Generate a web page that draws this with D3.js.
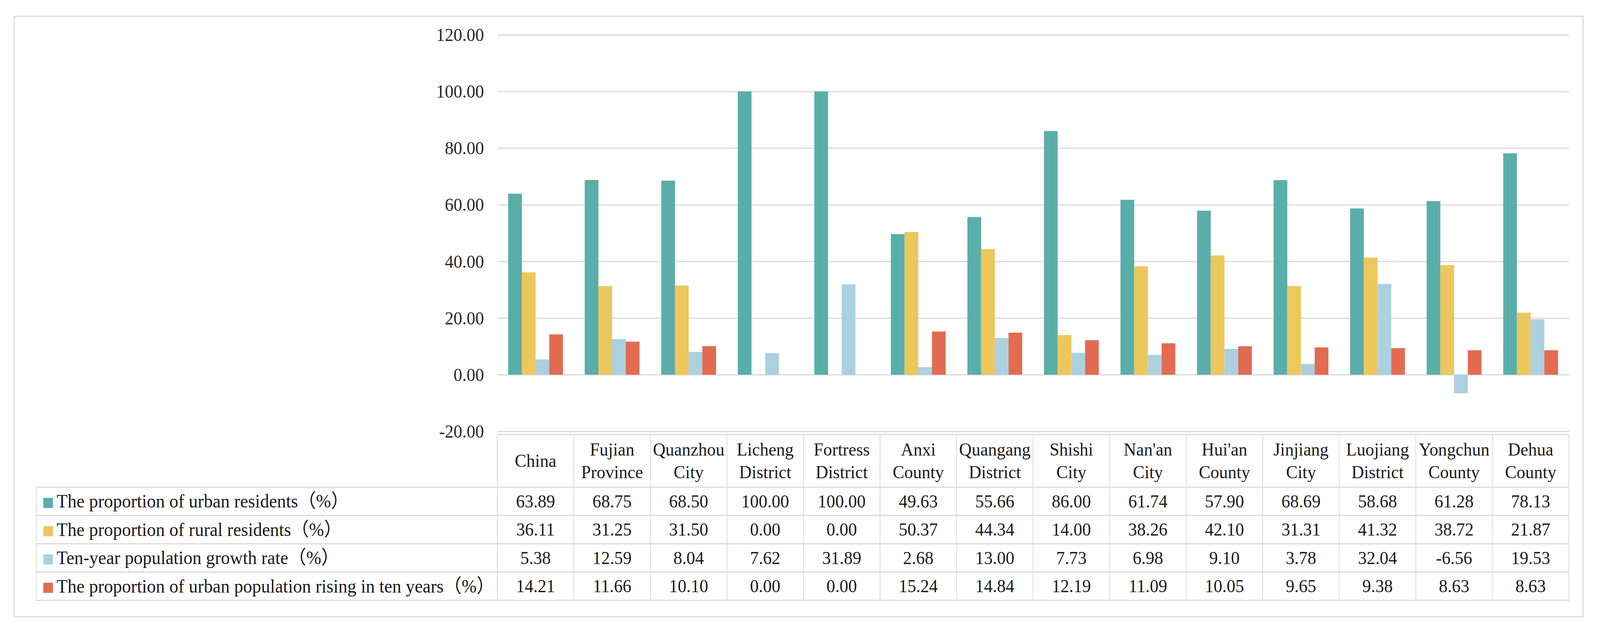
<!DOCTYPE html>
<html>
<head>
<meta charset="utf-8">
<script src="https://cdn.jsdelivr.net/npm/d3@7"></script>
<style>
  html, body { margin: 0; padding: 0; background: white; overflow: hidden; }
  #chart svg { display: block; width: 100vw; height: 100vh; }
  text { font-family: "Liberation Serif", "Noto Sans CJK SC", serif; }
  .tick text { fill: #262626; }
  .grid line { stroke: #d9d9d9; stroke-width: 3; }
  .tbl-line { stroke: #d9d9d9; }
</style>
</head>
<body>
<div id="chart"></div>
<script>
// Categories (header labels, \n = line break)
let categories = ["China", "Fujian\nProvince", "Quanzhou\nCity", "Licheng\nDistrict",
  "Fortress\nDistrict", "Anxi\nCounty", "Quangang\nDistrict", "Shishi\nCity",
  "Nan'an\nCity", "Hui'an\nCounty", "Jinjiang\nCity", "Luojiang\nDistrict",
  "Yongchun\nCounty", "Dehua\nCounty"];

let seriesNames = ["The proportion of urban residents（%）",
  "The proportion of rural residents（%）",
  "Ten-year population growth rate（%）",
  "The proportion of urban population rising in ten years（%）"];

let urban  = [63.89, 68.75, 68.50, 100.00, 100.00, 49.63, 55.66, 86.00, 61.74, 57.90, 68.69, 58.68, 61.28, 78.13];
let rural  = [36.11, 31.25, 31.50, 0.00, 0.00, 50.37, 44.34, 14.00, 38.26, 42.10, 31.31, 41.32, 38.72, 21.87];
let growth = [5.38, 12.59, 8.04, 7.62, 31.89, 2.68, 13.00, 7.73, 6.98, 9.10, 3.78, 32.04, -6.56, 19.53];
let rising = [14.21, 11.66, 10.10, 0.00, 0.00, 15.24, 14.84, 12.19, 11.09, 10.05, 9.65, 9.38, 8.63, 8.63];

let yTicks = [-20, 0, 20, 40, 60, 80, 100, 120];
let colors = ["#5aaea9", "#ecc75b", "#abd0e0", "#e26b52"];

let seriesValues = [urban, rural, growth, rising];

// plain hyphen minus, two decimals
let fmt = (d) => { return d.toFixed(2); };

// chart is laid out in the reference's 4321x1619 space and stretched to the window
let W = 4321, H = 1619;
let svg = d3.select("#chart").append("svg")
  .attr("viewBox", "0 0 " + W + " " + H)
  .attr("preserveAspectRatio", "none");

svg.append("rect")
  .attr("width", W)
  .attr("height", H)
  .attr("fill", "white");

// outer frame
svg.append("rect")
  .attr("x", 38).attr("y", 42)
  .attr("width", 4237).attr("height", 1538)
  .attr("fill", "none")
  .attr("stroke", "#d9d9d9")
  .attr("stroke-width", 3);

let plot = { left: 1343, right: 4237, top: 89, bottom: 1105 };
let fs = 47;
let legendFs = 48.5;

// columns of the table, bars sit inside them
let col = d3.scaleBand().domain(categories).range([plot.left, plot.right]);
let x = d3.scaleBand().domain(categories).range([plot.left, plot.right])
  .paddingInner(0.284).paddingOuter(0.142);
let xs = d3.scaleBand().domain(d3.range(seriesNames.length)).range([0, x.bandwidth()]);
let y = d3.scaleLinear().domain([-20, 120]).range([plot.bottom, plot.top]);

// y axis with gridlines
let yAxis = svg.append("g")
  .attr("class", "grid")
  .attr("transform", "translate(" + plot.left + ",0)")
  .call(d3.axisLeft(y).tickValues(yTicks).tickFormat(fmt)
    .tickSizeInner(-(plot.right - plot.left)).tickSizeOuter(0).tickPadding(36));
yAxis.select(".domain").remove();
yAxis.selectAll(".tick text")
  .attr("font-size", fs)
  .attr("dy", "0.33em");

// bars
let bars = [];
categories.forEach((c, i) => {
  seriesValues.forEach((vals, s) => {
    bars.push({ cat: c, s: s, v: vals[i] });
  });
});

svg.append("g").selectAll("rect")
  .data(bars)
  .enter().append("rect")
    .attr("x", (d) => { return x(d.cat) + xs(d.s); })
    .attr("y", (d) => { return y(Math.max(0, d.v)); })
    .attr("width", xs.bandwidth())
    .attr("height", (d) => { return Math.abs(y(d.v) - y(0)); })
    .attr("fill", (d) => { return colors[d.s]; });

// Data table
let tbl = { left: 98, top: 1113, headBottom: 1248, rowH: 72.5 };
let rowTop = (r) => { return tbl.headBottom + r * tbl.rowH; };
let tblBottom = rowTop(seriesNames.length);
let g = svg.append("g");

// header box top
g.append("line").attr("class", "tbl-line").attr("stroke-width", 3)
  .attr("x1", plot.left).attr("x2", plot.right)
  .attr("y1", tbl.top).attr("y2", tbl.top);

// horizontal row lines
d3.range(seriesNames.length + 1).forEach((r) => {
  g.append("line").attr("class", "tbl-line").attr("stroke-width", 3)
    .attr("x1", tbl.left).attr("x2", plot.right)
    .attr("y1", rowTop(r)).attr("y2", rowTop(r));
});

// vertical lines
g.append("line").attr("class", "tbl-line").attr("stroke-width", 2)
  .attr("x1", tbl.left).attr("x2", tbl.left)
  .attr("y1", tbl.headBottom).attr("y2", tblBottom);
categories.concat([null]).forEach((c) => {
  let xx = c === null ? plot.right : col(c);
  g.append("line").attr("class", "tbl-line").attr("stroke-width", 2)
    .attr("x1", xx).attr("x2", xx)
    .attr("y1", tbl.top).attr("y2", tblBottom);
});

// header labels
let headMid = (tbl.top + tbl.headBottom) / 2;
categories.forEach((c) => {
  let lines = c.split(/\n/);
  let t = g.append("text")
    .attr("text-anchor", "middle")
    .attr("font-size", fs)
    .attr("fill", "#1a1a1a");
  lines.forEach((ln, i) => {
    t.append("tspan")
      .attr("x", col(c) + col.bandwidth() / 2)
      .attr("y", headMid + 0.33 * fs + (i - (lines.length - 1) / 2) * 58)
      .text(ln);
  });
});

// legend column + values
seriesNames.forEach((name, s) => {
  let mid = rowTop(s) + tbl.rowH / 2;
  g.append("rect")
    .attr("x", 117).attr("y", mid - 9)
    .attr("width", 26).attr("height", 26)
    .attr("fill", colors[s]);
  g.append("text")
    .attr("x", 153).attr("y", mid + 0.33 * legendFs)
    .attr("font-size", legendFs)
    .attr("fill", "#1a1a1a")
    .text(name);
  categories.forEach((c, i) => {
    g.append("text")
      .attr("x", col(c) + col.bandwidth() / 2)
      .attr("y", mid + 0.33 * fs)
      .attr("text-anchor", "middle")
      .attr("font-size", fs)
      .attr("fill", "#1a1a1a")
      .text(fmt(seriesValues[s][i]));
  });
});
</script>
</body>
</html>
